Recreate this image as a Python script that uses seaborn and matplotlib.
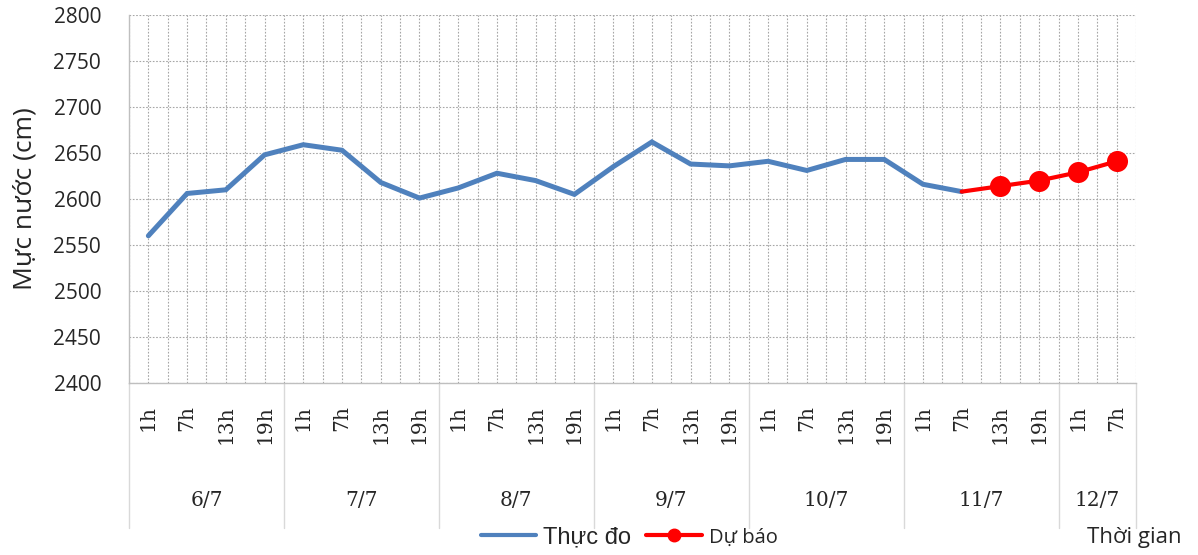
import numpy as np
import pandas as pd
import matplotlib
matplotlib.use("Agg")
import matplotlib.pyplot as plt
import matplotlib.transforms as mtransforms
from matplotlib.lines import Line2D
import seaborn as sns

# ---------------- data ----------------
days = ["6/7", "7/7", "8/7", "9/7", "10/7", "11/7", "12/7"]
day_hours = [
    ["1h", "7h", "13h", "19h"],
    ["1h", "7h", "13h", "19h"],
    ["1h", "7h", "13h", "19h"],
    ["1h", "7h", "13h", "19h"],
    ["1h", "7h", "13h", "19h"],
    ["1h", "7h", "13h", "19h"],
    ["1h", "7h"],
]
observed = [2560, 2606, 2610, 2648, 2659, 2653, 2618, 2601, 2612, 2628, 2620,
            2605, 2635, 2662, 2638, 2636, 2641, 2631, 2643, 2643, 2616, 2608]
forecast = [2608, 2614, 2620, 2629, 2641]   # starts at 11/7 7h
y_ticks = [2400, 2450, 2500, 2550, 2600, 2650, 2700, 2750, 2800]
series_names = ["Thực đo", "Dự báo"]
y_title = "Mực nước (cm)"
x_title = "Thời gian"

# ---------------- build tables ----------------
cat_labels = [f"{d} {h}" for d, hs in zip(days, day_hours) for h in hs]
hour_labels = [h for hs in day_hours for h in hs]
pos = np.arange(len(cat_labels))
df_obs = pd.DataFrame({"cat": cat_labels[:len(observed)],
                       "pos": pos[:len(observed)], "value": observed})
f_start = len(observed) - 1
df_fc = pd.DataFrame({"cat": cat_labels[f_start:f_start + len(forecast)],
                      "pos": pos[f_start:f_start + len(forecast)], "value": forecast})

# ---------------- style ----------------
sns.set_style("white")
plt.rcParams["font.family"] = ["Open Sans", "DejaVu Sans"]

BLUE = "#4F81BD"
RED = "#FF0000"
GRID = "#a6a6a6"

fig = plt.figure(figsize=(11.98, 5.55), dpi=100)
ax = fig.add_axes([129 / 1198, 1 - 383 / 555, (1136 - 129) / 1198, (383 - 15) / 555])

sns.lineplot(data=df_obs, x="pos", y="value", ax=ax, color=BLUE, linewidth=3.6,
             solid_joinstyle="miter", legend=False, zorder=3)
sns.lineplot(data=df_fc, x="pos", y="value", ax=ax, color=RED, linewidth=3.0,
             legend=False, zorder=4)
sns.scatterplot(data=df_fc.iloc[1:], x="pos", y="value", ax=ax, color=RED, s=230,
                edgecolor=RED, linewidth=0, legend=False, zorder=5)

ax.set_xlim(-0.5, len(cat_labels) - 0.5)
ax.set_ylim(y_ticks[0], y_ticks[-1])
ax.set_yticks(y_ticks)
ax.set_xticks(pos)
ax.set_xticklabels(hour_labels, rotation=90, family="DejaVu Serif", fontsize=14.5)
ax.set_xticks(np.arange(-0.5, len(cat_labels), 1.0), minor=True)
ax.tick_params(axis="x", which="both", length=0, pad=16)
ax.tick_params(axis="y", length=0, pad=20, labelsize=15)
ax.set_xlabel("")
ax.set_ylabel(y_title, fontsize=19)
ax.yaxis.set_label_coords(-0.091, 0.5)

ax.grid(which="both", axis="x", linestyle=(0, (1.5, 1.5)), color=GRID, linewidth=0.8)
ax.grid(which="major", axis="y", linestyle=(0, (1.5, 1.5)), color=GRID, linewidth=0.8)
ax.set_axisbelow(True)
for s in ["top", "right"]:
    ax.spines[s].set_visible(False)
for s in ["left", "bottom"]:
    ax.spines[s].set_color("#bfbfbf")
    ax.spines[s].set_linewidth(1.0)

# day group labels and separators
trans = mtransforms.blended_transform_factory(ax.transData, ax.transAxes)
start = 0
bounds = [-0.5]
for d, hs in zip(days, day_hours):
    center = start + (len(hs) - 1) / 2
    ax.text(center, -0.318, d, transform=trans, ha="center", va="center",
            family="DejaVu Serif", fontsize=14.5)
    start += len(hs)
    bounds.append(start - 0.5)
for b in bounds:
    ax.add_line(Line2D([b, b], [0, -0.394], transform=trans, color="#d9d9d9",
                       linewidth=1.0, clip_on=False))

# legend
handles = [
    Line2D([], [], color=BLUE, linewidth=3.0),
    Line2D([], [], color=RED, linewidth=3.0, marker="o", markersize=9),
]
leg = fig.legend(handles, series_names, loc="center", bbox_to_anchor=(0.525, 0.032),
                 ncol=2, frameon=False, fontsize=16, handlelength=2.5,
                 handletextpad=0.3, columnspacing=0.7)
leg.get_texts()[0].set_family(["Liberation Sans", "DejaVu Sans"])
leg.get_texts()[0].set_fontsize(17)
leg.get_texts()[1].set_family(["Open Sans", "DejaVu Sans"])
leg.get_texts()[1].set_fontsize(14.5)

fig.text(1087 / 1198, 1 - 538 / 555, x_title, ha="left", va="center", fontsize=16)

fig.savefig("out.png", dpi=100)
